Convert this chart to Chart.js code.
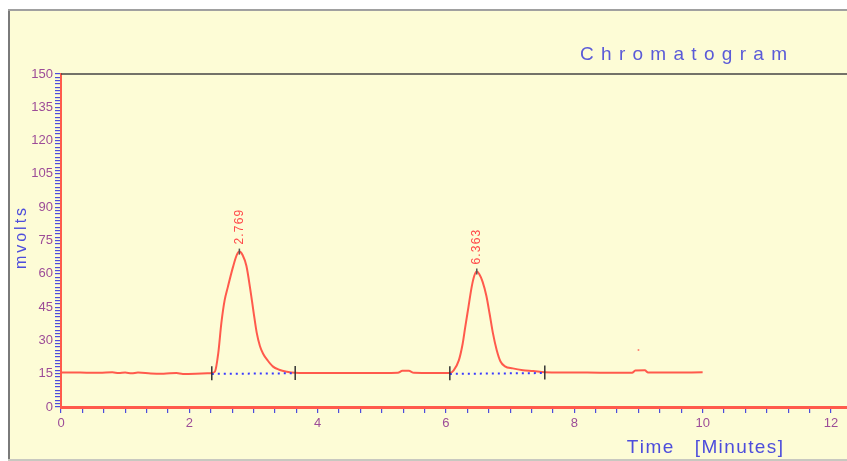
<!DOCTYPE html>
<html>
<head>
<meta charset="utf-8">
<script src="https://cdn.jsdelivr.net/npm/chart.js@4"></script>
<style>
  html, body { margin: 0; padding: 0; background: #ffffff; }
  #wrap { width: 847px; height: 461px; }
</style>
</head>
<body>
<div id="wrap"><canvas id="myChart"></canvas></div>
<script>
// trace (minutes, mV)
const traceTime = [0, 0.3, 0.6, 0.8, 0.9, 1.0, 1.1, 1.2, 1.4, 1.6, 1.8, 1.9, 2.1, 2.3, 2.35,
  2.40, 2.45, 2.50, 2.55, 2.60, 2.68, 2.74, 2.78, 2.83, 2.89, 2.95, 3.0, 3.05, 3.10, 3.15, 3.22, 3.30, 3.40, 3.52, 3.65,
  3.8, 4.2, 4.6, 5.0, 5.25, 5.32, 5.42, 5.5, 5.8, 6.06,
  6.12, 6.2, 6.26, 6.30, 6.35, 6.40, 6.44, 6.48, 6.52, 6.57, 6.63, 6.68, 6.73, 6.79, 6.85, 6.92, 7.04, 7.2, 7.36, 7.54,
  7.8, 8.2, 8.6, 8.9, 8.95, 9.1, 9.15, 9.5, 10.0];
const traceMv = [15.6, 15.5, 15.4, 15.6, 15.3, 15.5, 15.2, 15.5, 15.1, 15.0, 15.3, 14.9, 15.0, 15.2, 15.3,
  16.0, 24, 38, 48, 54, 63, 68.5, 70.0, 68.5, 63.5, 53, 43, 33.5, 27.5, 24, 21, 18.3, 16.8, 15.9, 15.4,
  15.3, 15.3, 15.3, 15.3, 15.4, 16.3, 16.3, 15.4, 15.3, 15.3,
  16.5, 21, 28.5, 36, 45, 54, 59, 61.0, 59.8, 56.5, 50, 42, 33.5, 25.7, 20.5, 18.3, 17.4, 16.6, 16.2, 15.6,
  15.5, 15.5, 15.4, 15.4, 16.4, 16.5, 15.5, 15.5, 15.6];

// peaks
const peakTime = [2.78, 6.48];
const peakMv = [70.0, 61.0];
const peakLabels = ['2.769', '6.363'];

// integration start / end marks and baselines
const markTime = [2.35, 3.65, 6.06, 7.54];
const markMv = [15.2, 15.3, 15.2, 15.5];
const baseTime = [2.35, 3.65, null, 6.06, 7.54];
const baseMv = [14.9, 15.2, null, 14.9, 15.3];

const strayTime = [9.0];
const strayMv = [25.7];

const xTickStep = 1 / 3;
const xTickCount = 36;
const yTickStep = 1.5;
const yTickCount = 100;

const RED = '#ff5a4c';
const BLUE = '#4d4ddc';
const PURPLE = '#9c4c98';
const BG = '#fdfcd6';
const FONT = '"Liberation Sans", Arial, sans-serif';

function pts(xs, ys) {
    return xs.map((x, i) => ({x: x === null ? NaN : x, y: ys[i]}));
}

function spacedWidth(c, text, spacing) {
    let w = 0;
    for (const ch of text) w += c.measureText(ch).width + spacing;
    return w - spacing;
}

function spacedText(c, text, x, y, spacing, alignRight) {
    let cx = alignRight ? x - spacedWidth(c, text, spacing) : x;
    for (const ch of text) {
        c.fillText(ch, cx, y);
        cx += c.measureText(ch).width + spacing;
    }
}

const decor = {
    id: 'decor',
    beforeDraw(chart) {
        const c = chart.ctx;
        c.save();
        c.fillStyle = '#ffffff';
        c.fillRect(0, 0, chart.width, chart.height);
        c.fillStyle = BG;
        c.fillRect(9, 10, chart.width - 9, chart.height - 12);
        c.fillStyle = '#7a7a7a';
        c.fillRect(8, 9, 2, chart.height - 10);
        c.fillStyle = '#a0a0a0';
        c.fillRect(8, 9, chart.width - 8, 2);
        c.fillStyle = '#c8c8c0';
        c.fillRect(8, chart.height - 2, chart.width - 8, 2);
        c.restore();
    },
    afterDraw(chart) {
        const c = chart.ctx;
        const a = chart.chartArea;
        const xs = chart.scales.x;
        const ys = chart.scales.y;
        c.save();
        // top border of the plot
        c.strokeStyle = '#444444';
        c.lineWidth = 1.5;
        c.beginPath();
        c.moveTo(a.left, a.top);
        c.lineTo(a.right, a.top);
        c.stroke();
        // title
        c.fillStyle = '#5a5ad8';
        c.font = '19px ' + FONT;
        c.textBaseline = 'alphabetic';
        spacedText(c, 'Chromatogram', 787, 60, 7.3, true);
        // x axis title
        c.fillStyle = BLUE;
        spacedText(c, 'Time   [Minutes]', 783, 453, 1.4, true);
        // y axis title
        c.font = '16px ' + FONT;
        c.save();
        c.translate(26, (a.top + a.bottom) / 2);
        c.rotate(-Math.PI / 2);
        const w = spacedWidth(c, 'mvolts', 3);
        spacedText(c, 'mvolts', -w / 2 + 2, 0, 3, false);
        c.restore();
        // peak labels
        c.fillStyle = '#ff4a4a';
        c.font = '12px ' + FONT;
        c.textBaseline = 'middle';
        peakLabels.forEach((lab, i) => {
            const px = xs.getPixelForValue(peakTime[i]);
            const py = ys.getPixelForValue(peakMv[i]);
            c.save();
            c.translate(px, py - 7);
            c.rotate(-Math.PI / 2);
            spacedText(c, lab, 0, 0, 1.2, false);
            c.restore();
        });
        c.restore();
    }
};

const ctx = document.getElementById('myChart');

new Chart(ctx, {
    type: 'scatter',
    data: {
        datasets: [
            {
                label: 'trace',
                data: pts(traceTime, traceMv),
                showLine: true,
                borderColor: RED,
                borderWidth: 2,
                pointRadius: 0,
                cubicInterpolationMode: 'monotone',
                order: 2
            },
            {
                label: 'baseline',
                data: pts(baseTime, baseMv),
                showLine: true,
                spanGaps: false,
                borderColor: '#3a3aff',
                borderWidth: 2,
                borderDash: [2, 4],
                pointRadius: 0,
                order: 1
            },
            {
                label: 'marks',
                data: pts(markTime, markMv),
                pointStyle: 'line',
                rotation: 90,
                pointRadius: 7,
                borderColor: '#333333',
                borderWidth: 1.5,
                order: 0
            },
            {
                label: 'peaks',
                data: pts(peakTime, peakMv),
                pointStyle: 'line',
                rotation: 90,
                pointRadius: 3,
                borderColor: '#555555',
                borderWidth: 1.5,
                order: 0
            },
            {
                label: 'stray',
                data: pts(strayTime, strayMv),
                pointRadius: 1,
                backgroundColor: '#ff8070',
                borderColor: '#ff8070',
                borderWidth: 0,
                order: 0
            }
        ]
    },
    options: {
        responsive: true,
        maintainAspectRatio: false,
        animation: false,
        layout: { autoPadding: false, padding: { top: 74, left: 10, right: 0, bottom: 0 } },
        plugins: {
            legend: { display: false },
            tooltip: { enabled: false }
        },
        scales: {
            x: {
                type: 'linear',
                min: 0,
                max: 12.25,
                afterFit(scale) {
                    scale.height = 54;
                    scale.paddingLeft = 0;
                    scale.paddingRight = 0;
                },
                afterBuildTicks(scale) {
                    const t = [];
                    for (let k = 0; k <= xTickCount; k++) t.push({value: k * xTickStep});
                    scale.ticks = t;
                },
                ticks: {
                    autoSkip: false,
                    maxRotation: 0,
                    padding: 3,
                    color: PURPLE,
                    font: { family: FONT, size: 13 },
                    callback: (v) => {
                        const r = Math.round(v);
                        return Math.abs(v - r) < 1e-6 && r % 2 === 0 ? String(r) : '';
                    }
                },
                grid: { drawOnChartArea: false, tickLength: 6, color: BLUE, lineWidth: 1.2 },
                border: { color: RED, width: 3 }
            },
            y: {
                min: 0,
                max: 150,
                afterFit(scale) { scale.width = 51; },
                afterBuildTicks(scale) {
                    const t = [];
                    for (let k = 0; k <= yTickCount; k++) t.push({value: k * yTickStep});
                    scale.ticks = t;
                },
                ticks: {
                    autoSkip: false,
                    padding: 2,
                    color: PURPLE,
                    font: { family: FONT, size: 13 },
                    callback: (v) => {
                        const r = Math.round(v);
                        return Math.abs(v - r) < 1e-6 && r % 15 === 0 ? String(r) : '';
                    }
                },
                grid: { drawOnChartArea: false, tickLength: 6, color: BLUE, lineWidth: 1.2 },
                border: { color: RED, width: 2 }
            }
        }
    },
    plugins: [decor]
});
</script>
</body>
</html>
